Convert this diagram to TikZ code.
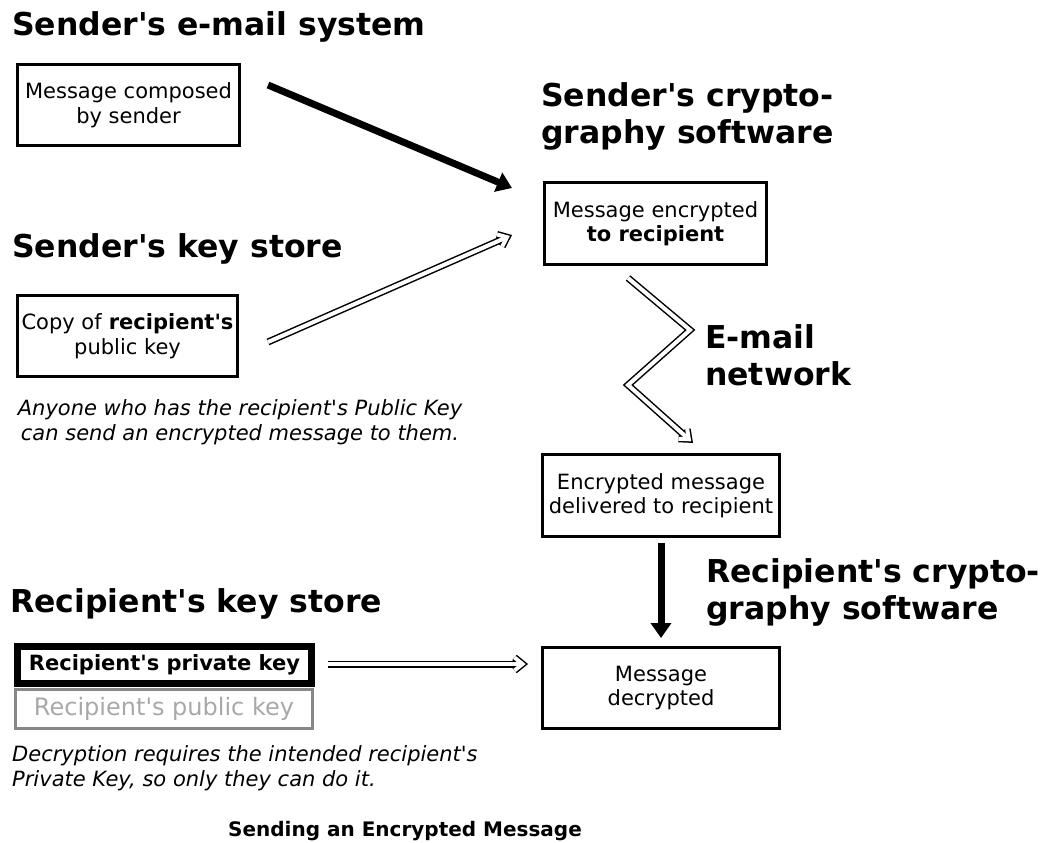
\documentclass[tikz,border=0pt]{standalone}
\usepackage{fontspec}
\setmainfont{DejaVu Sans}
\usetikzlibrary{arrows.meta,calc,decorations.markings}
\newcommand\bodyfnt{\fontsize{21}{24.5}\selectfont}
\newcommand\titlefnt{\fontsize{31.5}{37}\selectfont\bfseries}
\newcommand\capfnt{\fontsize{20}{24}\selectfont\bfseries}
\newcommand\apo{\textquotesingle}
\definecolor{grayedge}{HTML}{888888}
\definecolor{graytext}{HTML}{A8A8A8}
\begin{document}
\begin{tikzpicture}[x=1pt,y=-1pt,
  box/.style={draw, line width=3pt, inner sep=0pt, align=center, font=\bodyfnt},
  ttl/.style={anchor=base west, inner sep=0pt, align=left, font=\titlefnt},
  note/.style={inner sep=0pt, font=\bodyfnt\itshape},
  thickarrow/.style={line width=7pt, -{Triangle[length=15pt,width=20pt]}},
  chevron/.style 2 args={decoration={markings, mark=at position 1 with {\draw[#1, line width=#2, line join=miter, line cap=butt] (-8pt,6.5pt) -- (0pt,0pt) -- (-8pt,-6.5pt);}}, decorate},
  hollowarrow/.style={draw=black, line width=7pt, line join=miter,
    postaction={chevron={black}{7pt}},
    postaction={draw=white, line width=4pt, line join=miter},
    postaction={chevron={white}{4pt}}}]
\useasboundingbox (0,0) rectangle (1047,843);
% titles (base anchor = last line)
\node[ttl] (t1) at (12,36) {Sender\apo s e-mail system};
\node[ttl] (t2) at (541,143) {Sender\apo s crypto-\\graphy software};
\node[ttl] (t3) at (12,257) {Sender\apo s key store};
\node[ttl] (t4) at (705,385) {E-mail\\network};
\node[ttl] (t5) at (706,619) {Recipient\apo s crypto-\\graphy software};
\node[ttl] (t6) at (10,612) {Recipient\apo s key store};
% boxes
\node[box, minimum width=222, minimum height=81] (m1) at (128.5,105) {Message composed\\by sender};
\node[box, minimum width=220, minimum height=81] (m2) at (127.5,336) {Copy of \textbf{recipient\apo s}\\public key};
\node[box, minimum width=222, minimum height=82] (m3) at (655.5,223.5) {Message encrypted\\\textbf{to recipient}};
\node[box, minimum width=237, minimum height=82] (m4) at (661,495.5) {Encrypted message\\delivered to recipient};
\node[box, minimum width=237, minimum height=81] (m5) at (661,688) {Message\\decrypted};
\node[box, line width=7pt, minimum width=294, minimum height=37, font=\bodyfnt\bfseries] (priv) at (164.5,665) {Recipient\apo s private key};
\node[box, draw=grayedge, text=graytext, minimum width=297, minimum height=39, font=\fontsize{24}{28}\selectfont] (pub) at (164,709) {Recipient\apo s public key};
% notes
\node[note, anchor=base, align=center] (n1) at (240,440) {Anyone who has the recipient\apo s Public Key\\can send an encrypted message to them.};
\node[note, anchor=base west, align=left] (n2) at (12,786) {Decryption requires the intended recipient\apo s\\Private Key, so only they can do it.};
\node[inner sep=0pt, anchor=base, font=\capfnt] (cap) at (405,836) {Sending an Encrypted Message};
% connector ends
\coordinate (a1s) at (268,85);
\coordinate (a1e) at (512,188);
\coordinate (a2s) at (268,342);
\coordinate (a2e) at (507,237.2);
\coordinate (a3s) at (628,278);
\coordinate (a3b) at (690,330);
\coordinate (a3c) at (628,385);
\coordinate (a3e) at (688.9,439.3);
\coordinate (a4s) at (661,543);
\coordinate (a4e) at (661,638);
\coordinate (a5s) at (328,664);
\coordinate (a5e) at (522.5,664);
% connectors
\draw[thickarrow] (a1s) -- (a1e);
\path[hollowarrow] (a2s) -- (a2e);
\path[hollowarrow] (a3s) -- (a3b) -- (a3c) -- (a3e);
\draw[thickarrow] (a4s) -- (a4e);
\path[hollowarrow] (a5s) -- (a5e);
\end{tikzpicture}
\end{document}
